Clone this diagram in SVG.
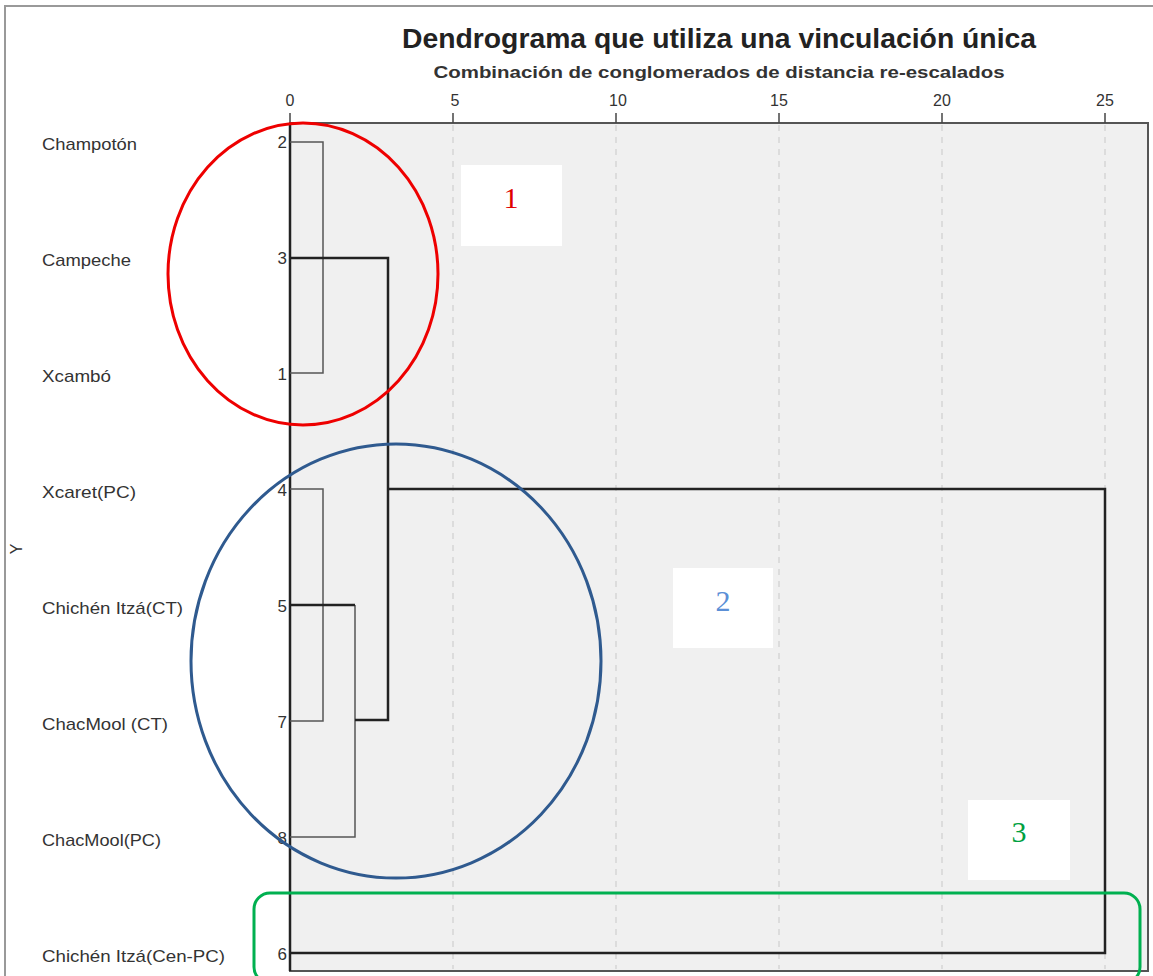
<svg xmlns="http://www.w3.org/2000/svg" width="1153" height="976" viewBox="0 0 1153 976">
<style>
.lbl{font-family:"Liberation Sans",Arial,sans-serif;font-size:17px;fill:#333}
.num{font-family:"Liberation Sans",Arial,sans-serif;font-size:17px;fill:#333;text-anchor:end}
.tick{font-family:"Liberation Sans",Arial,sans-serif;font-size:16px;fill:#333;text-anchor:middle}
.grid{stroke:#c8c8c8;stroke-width:1;stroke-dasharray:6 6}
.thin{stroke:#555;stroke-width:1.5;fill:none}
.thick{stroke:#222;stroke-width:2.5;fill:none}
.box{fill:#fff}
.bn{font-family:"Liberation Serif","Times New Roman",serif;font-size:30px;text-anchor:middle}
</style>
<rect width="1153" height="976" fill="#fff"/>
<path d="M5 976 V6 H1153" fill="none" stroke="#999" stroke-width="2"/>
<g id="title">
<text x="719" y="48" text-anchor="middle" font-family="Liberation Sans,Arial,sans-serif" font-size="27" font-weight="bold" fill="#222" textLength="634" lengthAdjust="spacingAndGlyphs">Dendrograma que utiliza una vinculación única</text>
<text x="719" y="78" text-anchor="middle" font-family="Liberation Sans,Arial,sans-serif" font-size="16" font-weight="bold" fill="#333" textLength="571" lengthAdjust="spacingAndGlyphs">Combinación de conglomerados de distancia re-escalados</text>
</g>
<g id="plot">
<rect x="290" y="123" width="858" height="848" fill="#f0f0f0" stroke="#555" stroke-width="2"/>
<line class="grid" x1="453" y1="125" x2="453" y2="969"/>
<line class="grid" x1="616" y1="125" x2="616" y2="969"/>
<line class="grid" x1="779" y1="125" x2="779" y2="969"/>
<line class="grid" x1="942" y1="125" x2="942" y2="969"/>
<line class="grid" x1="1105" y1="125" x2="1105" y2="969"/>
<g stroke="#444" stroke-width="1.5">
<line x1="290" y1="113" x2="290" y2="123"/>
<line x1="453" y1="113" x2="453" y2="123"/>
<line x1="616" y1="113" x2="616" y2="123"/>
<line x1="779" y1="113" x2="779" y2="123"/>
<line x1="942" y1="113" x2="942" y2="123"/>
<line x1="1105" y1="113" x2="1105" y2="123"/>
</g>
<text class="tick" x="290" y="106">0</text>
<text class="tick" x="455" y="106">5</text>
<text class="tick" x="618" y="106">10</text>
<text class="tick" x="779" y="106">15</text>
<text class="tick" x="942" y="106">20</text>
<text class="tick" x="1105" y="106">25</text>
<line x1="290" y1="123" x2="290" y2="971" stroke="#222" stroke-width="2.5"/>
</g>
<g id="labels">
<text class="lbl" x="42" y="150" textLength="95" lengthAdjust="spacingAndGlyphs">Champotón</text>
<text class="lbl" x="42" y="266" textLength="89" lengthAdjust="spacingAndGlyphs">Campeche</text>
<text class="lbl" x="42" y="382" textLength="69" lengthAdjust="spacingAndGlyphs">Xcambó</text>
<text class="lbl" x="42" y="498" textLength="94" lengthAdjust="spacingAndGlyphs">Xcaret(PC)</text>
<text class="lbl" x="42" y="614" textLength="141" lengthAdjust="spacingAndGlyphs">Chichén Itzá(CT)</text>
<text class="lbl" x="42" y="730" textLength="126" lengthAdjust="spacingAndGlyphs">ChacMool (CT)</text>
<text class="lbl" x="42" y="846" textLength="119" lengthAdjust="spacingAndGlyphs">ChacMool(PC)</text>
<text class="lbl" x="42" y="962" textLength="183" lengthAdjust="spacingAndGlyphs">Chichén Itzá(Cen-PC)</text>
<text class="num" x="287" y="148">2</text>
<text class="num" x="287" y="264">3</text>
<text class="num" x="287" y="380">1</text>
<text class="num" x="287" y="496">4</text>
<text class="num" x="287" y="612">5</text>
<text class="num" x="287" y="728">7</text>
<text class="num" x="287" y="844">8</text>
<text class="num" x="287" y="960">6</text>
<text x="22" y="549" font-family="Liberation Sans,Arial,sans-serif" font-size="16" fill="#333" text-anchor="middle" transform="rotate(-90 22 549)">Y</text>
</g>
<g id="connectors">
<path class="thin" d="M290 142 H323 V373 H290"/>
<path class="thin" d="M290 489 H323 V721 H290"/>
<path class="thin" d="M290 837 H355 V605"/>
<path class="thick" d="M290 605 H355"/>
<path class="thick" d="M290 258 H388 V720 H355"/>
<path class="thick" d="M388 489 H1105 V953 H290"/>
</g>
<g id="box1"><rect class="box" x="461" y="165" width="101" height="81"/><text class="bn" x="511" y="208" fill="#e00000">1</text></g>
<g id="box2"><rect class="box" x="673" y="568" width="100" height="80"/><text class="bn" x="723" y="611" fill="#5b8fd6">2</text></g>
<g id="box3"><rect class="box" x="968" y="800" width="102" height="80"/><text class="bn" x="1019" y="842" fill="#00a040">3</text></g>
<g id="cluster1"><ellipse cx="303" cy="274" rx="135" ry="151" fill="none" stroke="#ee0000" stroke-width="3"/></g>
<g id="cluster2"><ellipse cx="396" cy="661" rx="205" ry="217" fill="none" stroke="#2f5a8f" stroke-width="3"/></g>
<g id="cluster3"><rect x="254" y="893" width="886" height="90" rx="16" fill="none" stroke="#00b050" stroke-width="3"/></g>
</svg>
